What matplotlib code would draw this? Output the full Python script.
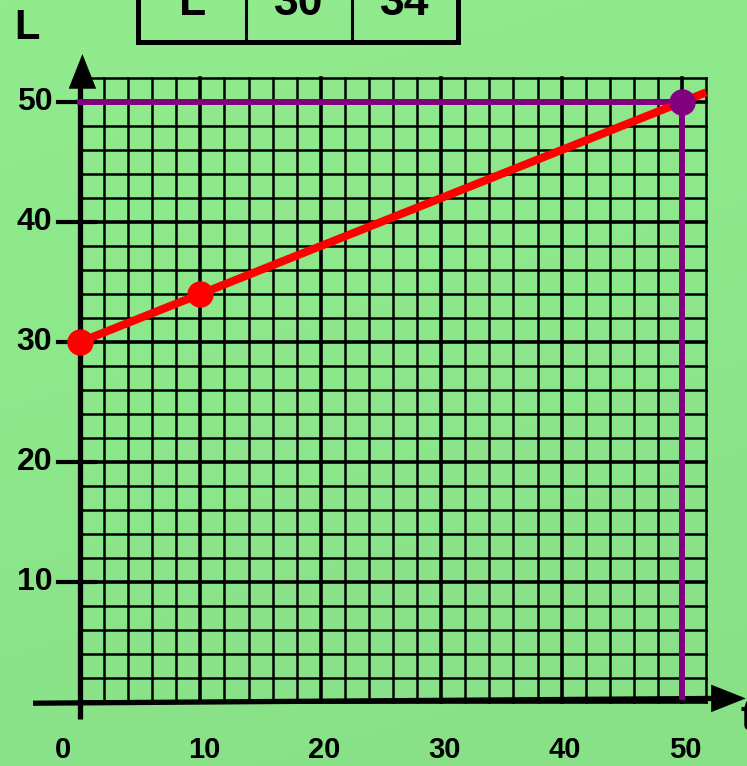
import matplotlib.pyplot as plt
import numpy as np

# measured values (table at the top)
t_measured = [0, 10]
L_measured = [30, 34]
table_header = 'L'

# fitted line and the value read at t = 50
t_fit = [0, 52]
L_fit = [30, 50.8]
t_read = 50
L_read = 50

t_ticks = [0, 10, 20, 30, 40, 50]
L_ticks = [10, 20, 30, 40, 50]

grid_max = 52
grid_step = 2

plt.rcParams['font.family'] = ['Liberation Sans', 'DejaVu Sans']
plt.rcParams['font.weight'] = 'bold'

fig = plt.figure(figsize=(7.47, 7.66), dpi=100)
ax = fig.add_axes([0, 0, 1, 1])
ax.set_xlim(-6.645, 55.4)
ax.set_ylim(-5.333, 58.5)
ax.axis('off')

# soft green background, a bit darker toward the bottom
yy, xx = np.mgrid[0:1:200j, 0:1:200j]
shade = 0.55 * yy + 0.15 * xx
c_top = np.array([0x91, 0xEC, 0x8E]) / 255
c_bot = np.array([0x84, 0xDB, 0x84]) / 255
bg = c_top[None, None, :] * (1 - shade[..., None]) + c_bot[None, None, :] * shade[..., None]
ax.imshow(bg, extent=[-6.645, 55.4, -5.333, 58.5], aspect='auto', zorder=0)

# graph paper
for v in range(0, grid_max + 1, grid_step):
    lw = 2.6 if v % 10 == 0 else 1.8
    ax.plot([v, v], [0, grid_max], color='black', lw=lw, zorder=1)
    ax.plot([0, grid_max], [v, v], color='black', lw=lw, zorder=1)

# axes with arrow heads
head = '-|>,head_length=2.4,head_width=0.95'
ax.plot([-3.9, 53.0], [-0.1, 0.3], color='black', lw=3.8, zorder=3,
        solid_capstyle='butt')
ax.annotate('', xy=(55.3, 0.3), xytext=(52.4, 0.3),
            arrowprops=dict(arrowstyle=head, color='black', lw=0.5,
                            shrinkA=0, shrinkB=0), zorder=3)
ax.plot([0, 0], [-1.4, 52.0], color='black', lw=3.8, zorder=3,
        solid_capstyle='butt')
ax.annotate('', xy=(0.2, 54.0), xytext=(0.2, 51.2),
            arrowprops=dict(arrowstyle=head, color='black', lw=0.5,
                            shrinkA=0, shrinkB=0), zorder=3)

for v in L_ticks:
    ax.plot([-1.83, 1.25], [v, v], color='black', lw=3.0, zorder=3)
    ax.text(-2.3, v, str(v), ha='right', va='center', fontsize=23,
            fontweight='bold')

for v in t_ticks:
    shift = -1.4 if v == 0 else 0.3
    ax.text(v + shift, -4.0, str(v), ha='center', va='center', fontsize=21,
            fontweight='bold')

ax.text(-4.4, 56.2, 'L', ha='center', va='center', fontsize=30,
        fontweight='bold')
ax.text(54.9, -1.4, 't', ha='left', va='center', fontsize=30,
        fontweight='bold')

# reading at t = 50
ax.plot([0, t_read], [L_read, L_read], color='#800080', lw=4.3, zorder=4)
ax.plot([t_read, t_read], [L_read, 0.4], color='#800080', lw=4.3, zorder=4)

# fitted line and measured points
ax.plot(t_fit, L_fit, color='#ff0000', lw=5.8, zorder=5,
        solid_capstyle='butt')
ax.plot(t_measured, L_measured, 'o', color='#ff0000', ms=18, zorder=6)
ax.plot([t_read], [L_read], 'o', color='#800080', ms=18, zorder=6)

# data table, cut by the top edge
tx = [4.82, 13.8, 22.6, 31.4]
ax.plot([tx[0], tx[0], tx[3], tx[3]], [60, 55, 55, 60], color='black',
        lw=3.6, zorder=3, solid_joinstyle='miter')
ax.plot([tx[1], tx[1]], [55, 60], color='black', lw=2.2, zorder=3)
ax.plot([tx[2], tx[2]], [55, 60], color='black', lw=2.2, zorder=3)
cells = [table_header] + [str(v) for v in L_measured]
for i, s in enumerate(cells):
    ax.text((tx[i] + tx[i + 1]) / 2, 57.25, s, ha='center', va='baseline',
            fontsize=32, fontweight='bold')

fig.savefig('out.png', dpi=100)
